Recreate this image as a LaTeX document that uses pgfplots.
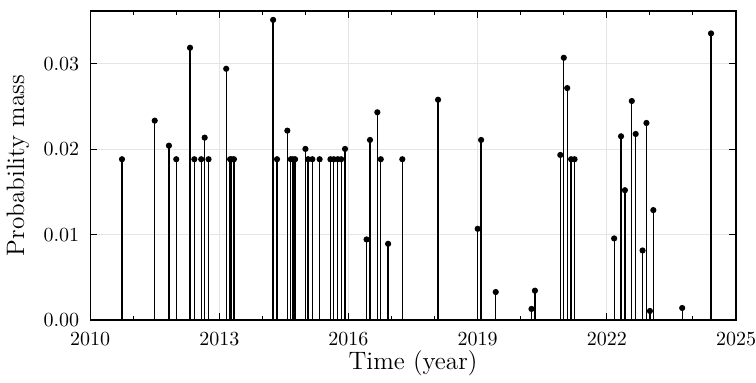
\documentclass[border=0pt]{standalone}
\usepackage{pgfplots}
\pgfplotsset{compat=1.18}
\begin{document}
\begin{tikzpicture}
\begin{axis}[
    scale only axis,
    width=323pt, height=154.5pt,
    xmin=2010, xmax=2025,
    ymin=0, ymax=0.0362,
    xtick={2010,2013,2016,2019,2022,2025},
    minor x tick num=2,
    ytick={0,0.01,0.02,0.03},
    tick align=inside,
    major tick length=3.5pt,
    minor tick length=2pt,
    tick label style={font=\fontsize{10.4}{12}\selectfont},
    xticklabel style={/pgf/number format/1000 sep={}, inner xsep=0pt, yshift=-2.7pt},
    yticklabel style={/pgf/number format/fixed, /pgf/number format/fixed zerofill, /pgf/number format/precision=2, xshift=-2pt},
    scaled y ticks=false,
    grid=major,
    major grid style={gray!20, line width=0.5pt},
    axis line style={line width=0.6pt},
    every tick/.style={black, line width=0.5pt},
    label style={font=\fontsize{12.6}{14}\selectfont},
    xlabel={Time (year)},
    ylabel={Probability mass},
    xlabel style={at={([yshift=-25pt]axis description cs:0.5,0)}, anchor=base},
    ylabel style={at={([xshift=-33pt]axis description cs:0,0.5)}, anchor=base},
]
\addplot[ycomb, black, line width=0.65pt, mark=*, mark size=1.2pt] coordinates {
(2010.74,0.01883) (2011.50,0.02335) (2011.83,0.02042) (2012.00,0.01883)
(2012.32,0.03189) (2012.42,0.01883) (2012.58,0.01883) (2012.66,0.02136)
(2012.75,0.01883) (2013.16,0.02943) (2013.25,0.01883) (2013.29,0.01883)
(2013.34,0.01883) (2014.25,0.03516) (2014.34,0.01883) (2014.58,0.02218)
(2014.66,0.01883) (2014.71,0.01883) (2014.76,0.01883) (2015.00,0.02004)
(2015.06,0.01883) (2015.16,0.01883) (2015.33,0.01883) (2015.58,0.01883)
(2015.66,0.01883) (2015.75,0.01883) (2015.83,0.01883) (2015.92,0.02004)
(2016.42,0.00943) (2016.50,0.02109) (2016.67,0.02433) (2016.75,0.01883)
(2016.92,0.00892) (2017.25,0.01883) (2018.08,0.02580) (2019.00,0.01068)
(2019.08,0.02109) (2019.42,0.00327) (2020.25,0.00129) (2020.33,0.00343)
(2020.92,0.01933) (2021.00,0.03072) (2021.08,0.02717) (2021.17,0.01883)
(2021.25,0.01883) (2022.17,0.00955) (2022.33,0.02152) (2022.42,0.01520)
(2022.58,0.02565) (2022.67,0.02179) (2022.83,0.00814) (2022.92,0.02308)
(2023.00,0.00105) (2023.08,0.01287) (2023.75,0.00140) (2024.42,0.03357)
};
\end{axis}
\path (current axis.north east) ++(10pt,5.5pt);
\path (current axis.south west) ++(-44pt,-31pt);
\end{tikzpicture}
\end{document}
